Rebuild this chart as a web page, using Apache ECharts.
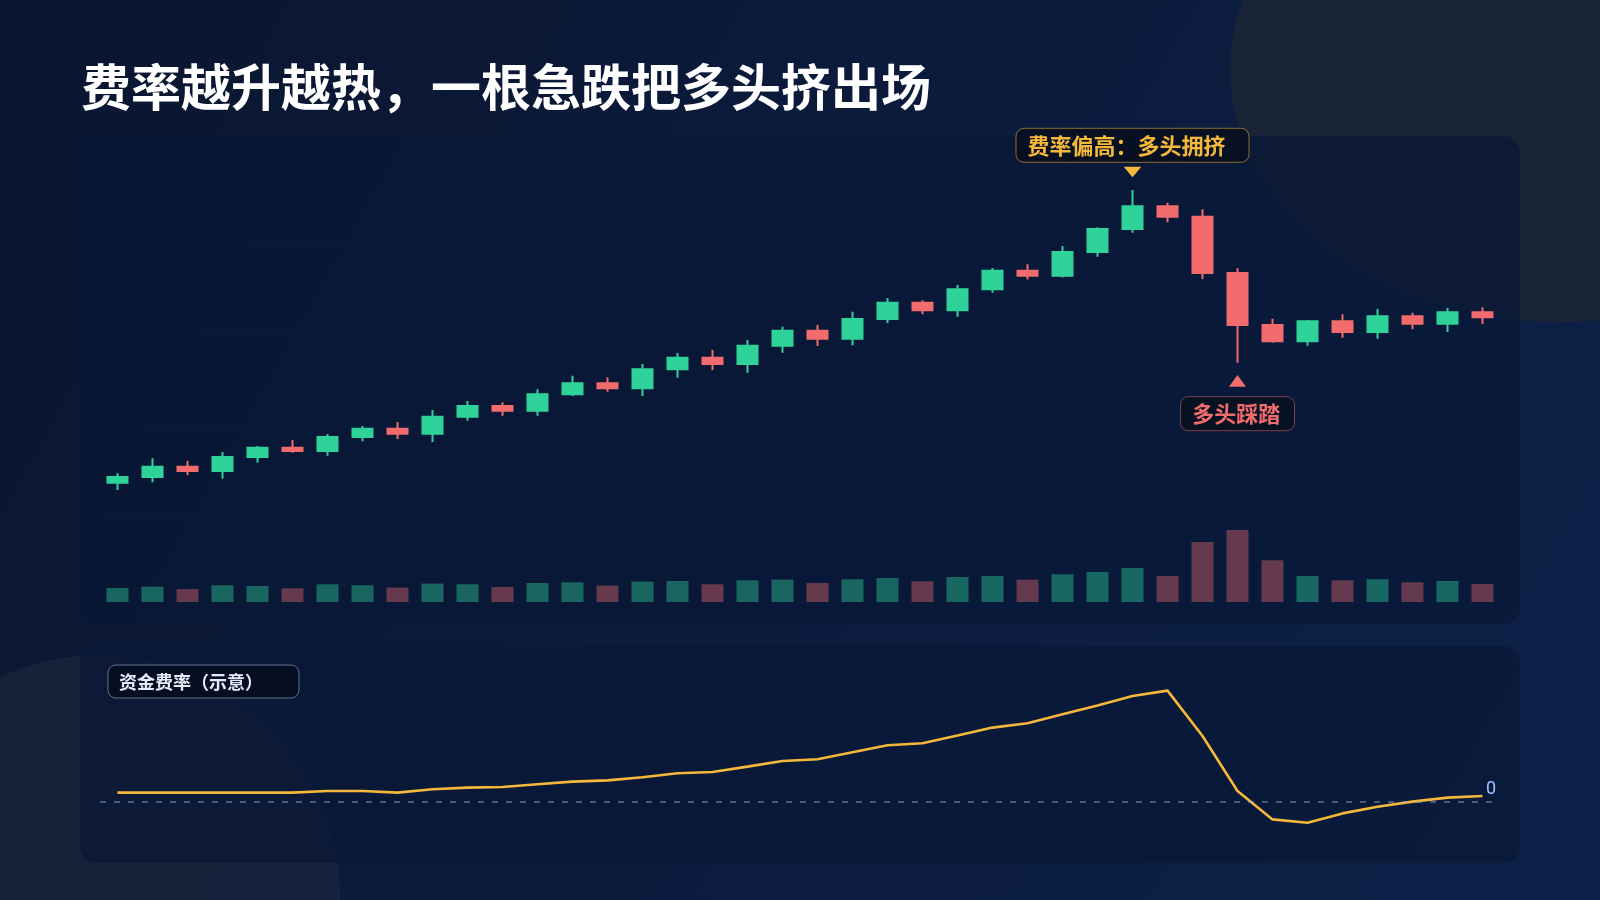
<!DOCTYPE html>
<html>
<head>
<meta charset="utf-8">
<script src="https://cdn.jsdelivr.net/npm/echarts@6/dist/echarts.min.js"></script>
<style>
html,body{margin:0;padding:0;background:#0a1630;}
#main{width:1600px;height:900px;}
</style>
</head>
<body>
<div id="main"></div>
<script>
// ---------------- data ----------------
const titleText = '费率越升越热，一根急跌把多头挤出场';
const fundingLabel = '资金费率（示意）';

const categories = ['1','2','3','4','5','6','7','8','9','10','11','12','13','14','15','16','17','18','19','20',
  '21','22','23','24','25','26','27','28','29','30','31','32','33','34','35','36','37','38','39','40'];

// [open, close, low, high]
const ohlc = [
  [103.74,104.36,102.94,104.76],[104.36,105.48,103.78,106.40],[105.48,105.01,104.58,106.10],[105.01,106.54,104.17,107.08],
  [106.54,107.55,105.92,107.74],[107.55,107.19,107.01,108.39],[107.19,108.72,106.68,109.05],[108.72,109.62,108.25,109.92],
  [109.62,109.08,108.50,110.35],[109.08,110.93,108.17,111.66],[110.93,112.10,110.50,112.64],[112.10,111.59,111.04,112.50],
  [111.59,113.37,111.04,113.92],[113.37,114.57,113.19,115.40],[114.57,114.03,113.66,115.23],[114.03,116.10,113.19,116.68],
  [116.10,117.36,115.18,117.87],[117.36,116.68,116.02,118.20],[116.68,118.67,115.73,119.29],[118.67,120.31,117.91,120.74],
  [120.31,119.43,118.64,120.93],[119.43,121.58,118.71,122.38],[121.58,123.36,121.14,123.87],[123.36,122.53,122.09,123.62],
  [122.53,124.82,121.83,125.29],[124.82,126.85,124.45,127.14],[126.85,126.30,125.89,127.55],[126.30,128.88,126.10,129.54],
  [128.88,131.39,128.37,131.58],[131.39,133.86,130.99,135.64],[133.86,132.73,132.12,134.26],[132.73,126.59,125.94,133.54],
  [126.59,120.93,116.82,127.11],[120.93,119.15,119.00,121.61],[119.15,121.33,118.67,121.47],[121.33,120.16,119.54,122.09],
  [120.16,121.87,119.43,122.67],[121.87,121.07,120.46,122.27],[121.07,122.31,120.16,122.78],[122.31,121.77,121.04,122.86]
];

const volume = [140,154,130,167,160,137,177,167,144,184,177,150,190,197,164,204,210,177,217,224,
  190,227,240,207,250,260,224,277,300,340,260,600,720,417,260,217,227,197,210,180];

const funding = [0.0047,0.0047,0.0047,0.0047,0.0047,0.0047,0.0055,0.0055,0.0047,0.0064,
  0.0072,0.0075,0.0089,0.0102,0.0108,0.0124,0.0144,0.0150,0.0177,0.0205,
  0.0214,0.0249,0.0284,0.0294,0.0332,0.0372,0.0394,0.0439,0.0483,0.0530,
  0.0557,0.0330,0.0055,-0.0087,-0.0104,-0.0057,-0.0024,0.0002,0.0022,0.0030];

const priceTicks = [100, 140, 10];   // min, max, interval
const volumeRange = [0, 800];
const fundingRange = [-0.02, 0.06];

const annotations = [
  { index: 29, text: '费率偏高：多头拥挤', side: 'top' },
  { index: 32, text: '多头踩踏', side: 'bottom' }
];

// ---------------- styles ----------------
const UP = '#2fd39a', DOWN = '#f26b6d', AMBER = '#f5b83a';
const FONT = '"Noto Sans CJK SC", "Noto Sans", sans-serif';
const gridL = 100, gridW = 1400;

const volData = volume.map((v, i) => ({
  value: v,
  itemStyle: { color: ohlc[i][1] >= ohlc[i][0] ? 'rgba(47,211,154,0.42)' : 'rgba(242,107,109,0.40)' }
}));

const chart = echarts.init(document.getElementById('main'), null, { renderer: 'canvas' });

const baseGraphics = [
  { type: 'ellipse', z: 0, shape: { cx: 1560, cy: 70, rx: 330, ry: 252 }, style: { fill: '#1a2437' }, silent: true },
  { type: 'circle', z: 0, shape: { cx: 100, cy: 895, r: 240 }, style: { fill: 'rgba(70,70,72,0.22)' }, silent: true },
  { type: 'rect', z: 1, shape: { x: 80, y: 136, width: 1440, height: 488, r: 16 }, style: { fill: 'rgba(8,24,54,0.72)' }, silent: true },
  { type: 'rect', z: 1, shape: { x: 80, y: 646, width: 1440, height: 217, r: 16 }, style: { fill: 'rgba(8,24,54,0.72)' }, silent: true },
  { type: 'text', z: 5, x: 81, y: 87, style: { text: titleText, fill: '#ffffff', font: '700 50px ' + FONT, verticalAlign: 'middle', align: 'left' } },
  { type: 'rect', z: 5, shape: { x: 108, y: 665, width: 191, height: 33, r: 8 }, style: { fill: 'rgba(6,14,30,0.85)', stroke: 'rgba(170,190,220,0.55)', lineWidth: 1 } },
  { type: 'text', z: 6, x: 119, y: 682, style: { text: fundingLabel, fill: '#e3ebf7', font: '600 18px ' + FONT, verticalAlign: 'middle', align: 'left' } }
];

const option = {
  animation: false,
  backgroundColor: {
    type: 'linear', x: 0, y: 0, x2: 1, y2: 1,
    colorStops: [{ offset: 0, color: '#0a1630' }, { offset: 1, color: '#0d2149' }]
  },
  grid: [
    { left: gridL, width: gridW, top: 150, height: 367 },
    { left: gridL, width: gridW, top: 522, height: 80 },
    { left: gridL, width: gridW, top: 682, height: 160 }
  ],
  xAxis: [0, 1, 2].map(i => ({
    type: 'category', gridIndex: i, data: categories, boundaryGap: true,
    axisLine: { show: false }, axisTick: { show: false }, axisLabel: { show: false }, splitLine: { show: false }
  })),
  yAxis: [
    { type: 'value', gridIndex: 0, min: priceTicks[0], max: priceTicks[1], interval: priceTicks[2],
      axisLine: { show: false }, axisTick: { show: false }, axisLabel: { show: false },
      splitLine: { show: true, lineStyle: { width: 1, color: ['rgba(120,150,200,0.10)','rgba(120,150,200,0.10)','rgba(120,150,200,0.10)','rgba(120,150,200,0.10)','rgba(0,0,0,0)'] } } },
    { type: 'value', gridIndex: 1, min: volumeRange[0], max: volumeRange[1],
      axisLine: { show: false }, axisTick: { show: false }, axisLabel: { show: false }, splitLine: { show: false } },
    { type: 'value', gridIndex: 2, min: fundingRange[0], max: fundingRange[1],
      axisLine: { show: false }, axisTick: { show: false }, axisLabel: { show: false }, splitLine: { show: false } }
  ],
  graphic: { elements: baseGraphics },
  series: [
    {
      type: 'candlestick', xAxisIndex: 0, yAxisIndex: 0, data: ohlc, barWidth: 20, z: 3,
      itemStyle: { color: UP, color0: DOWN, borderColor: UP, borderColor0: DOWN, borderWidth: 2 }
    },
    {
      type: 'bar', xAxisIndex: 1, yAxisIndex: 1, data: volData, barWidth: 22, z: 3
    },
    {
      type: 'line', xAxisIndex: 2, yAxisIndex: 2, data: funding, symbol: 'none', z: 4,
      lineStyle: { color: AMBER, width: 2.6 },
      markLine: {
        silent: true, symbol: 'none',
        data: [{ yAxis: 0 }],
        lineStyle: { color: 'rgba(150,172,205,0.6)', type: [6, 8], width: 1.5 },
        label: { show: true, formatter: '0', position: 'insideEndTop', color: '#9cc4ff', fontSize: 18, fontFamily: 'Roboto, sans-serif', distance: 4 }
      }
    }
  ]
};

chart.setOption(option);

// annotations anchored to candle data
const annGraphics = [];
annotations.forEach(a => {
  const d = ohlc[a.index];
  if (a.side === 'top') {
    const [ax, ay] = chart.convertToPixel({ xAxisIndex: 0, yAxisIndex: 0 }, [a.index, d[3]]);
    const w = 233, h = 34;
    const bx = ax - w / 2, by = ay - 61.7;
    annGraphics.push(
      { type: 'polygon', z: 20, shape: { points: [[ax - 8.8, ay - 23.3], [ax + 8.8, ay - 23.3], [ax, ay - 12.7]] }, style: { fill: AMBER } },
      { type: 'rect', z: 20, shape: { x: bx, y: by, width: w, height: h, r: 8 }, style: { fill: 'rgba(8,16,32,0.92)', stroke: 'rgba(245,184,58,0.55)', lineWidth: 1 } },
      { type: 'text', z: 21, x: bx + 11.5, y: by + h / 2, style: { text: a.text, fill: AMBER, font: '700 22px ' + FONT, verticalAlign: 'middle', align: 'left' } }
    );
  } else {
    const [ax, ay] = chart.convertToPixel({ xAxisIndex: 0, yAxisIndex: 0 }, [a.index, d[2]]);
    const w = 114, h = 34;
    const bx = ax - w / 2, by = ay + 34;
    annGraphics.push(
      { type: 'polygon', z: 20, shape: { points: [[ax - 8.5, ay + 24], [ax + 8.5, ay + 24], [ax, ay + 12.3]] }, style: { fill: DOWN } },
      { type: 'rect', z: 20, shape: { x: bx, y: by, width: w, height: h, r: 8 }, style: { fill: 'rgba(8,16,32,0.92)', stroke: 'rgba(242,107,109,0.5)', lineWidth: 1 } },
      { type: 'text', z: 21, x: bx + 11.7, y: by + h / 2, style: { text: a.text, fill: DOWN, font: '700 22px ' + FONT, verticalAlign: 'middle', align: 'left' } }
    );
  }
});
chart.setOption({ graphic: { elements: baseGraphics.concat(annGraphics) } });
</script>
</body>
</html>
